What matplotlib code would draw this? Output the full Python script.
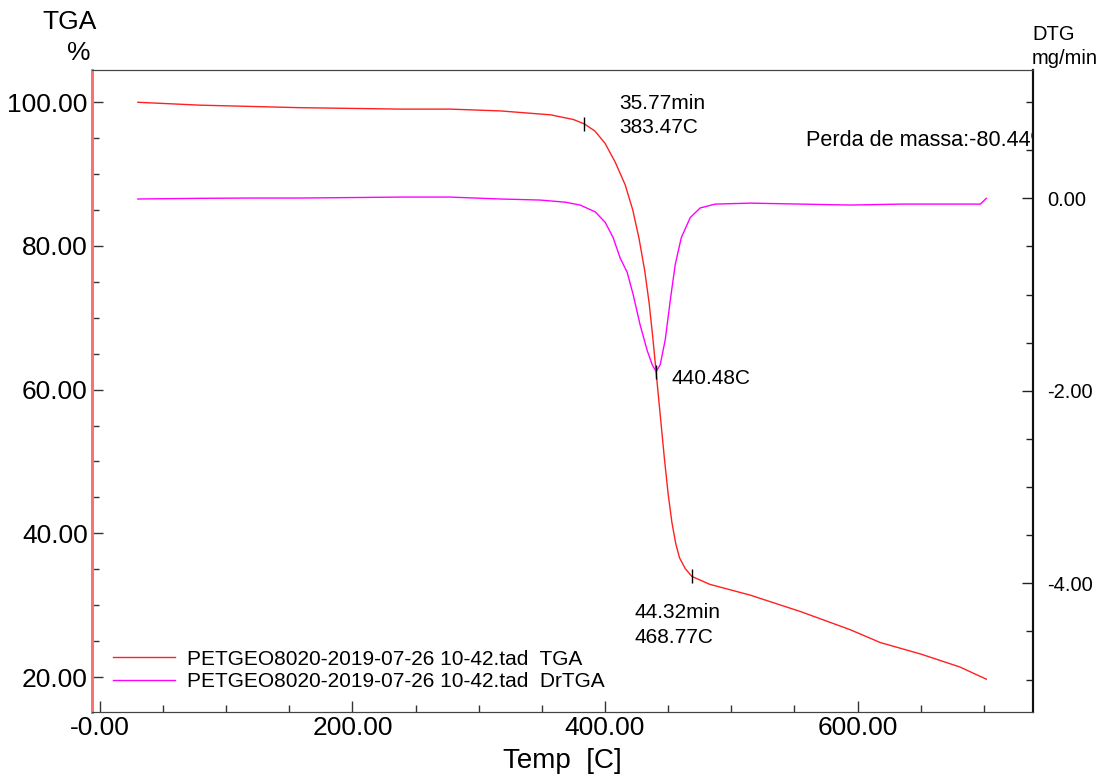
import matplotlib
matplotlib.use("Agg")
import matplotlib.pyplot as plt
from matplotlib.ticker import MultipleLocator, FixedLocator, FixedFormatter

plt.rcParams['font.family'] = ['Liberation Sans', 'DejaVu Sans']

# ---- data ----
tga_temp = [30, 79, 158, 238, 277, 317, 357, 375, 383.5, 392, 400, 408, 416, 422, 427, 431.5,
            435, 438, 441, 444, 447, 450, 453, 456, 459, 463.5, 468.8, 483, 515, 555, 594,
            618, 650, 681, 702]
tga_mass = [100.0, 99.6, 99.25, 99.05, 99.05, 98.8, 98.25, 97.6, 97.0, 96.0, 94.3, 91.7, 88.5,
            85.0, 81.0, 76.5, 72.0, 67.0, 61.5, 56.0, 50.5, 45.5, 41.5, 38.6, 36.6, 35.1,
            34.0, 32.9, 31.4, 29.1, 26.6, 24.8, 23.2, 21.4, 19.7]

dtg_temp = [30, 79, 120, 158, 200, 238, 277, 317, 348.6, 368.5, 380.3, 392.2, 400.2, 406.5, 412,
            417.6, 422.3, 427.9, 433.4, 437.4, 440.5, 443.7, 447.7, 451.7, 455.6, 460.4, 467.5,
            475.4, 487.3, 515, 554.7, 594.3, 633.9, 673.5, 697.3, 702]
dtg_rate = [-0.007, 0.0, 0.003, 0.003, 0.008, 0.013, 0.013, -0.007, -0.018, -0.04, -0.07, -0.14,
            -0.25, -0.41, -0.62, -0.77, -1.00, -1.32, -1.58, -1.73, -1.80, -1.73, -1.47, -1.06,
            -0.69, -0.41, -0.20, -0.10, -0.06, -0.05, -0.06, -0.07, -0.06, -0.06, -0.06, 0.0]

onset_point = (383.47, 97.0)
peak_point = (440.48, -1.80)
endset_point = (468.77, 34.0)

x_ticks = [0, 200, 400, 600]
x_tick_labels = ["-0.00", "200.00", "400.00", "600.00"]
tga_ticks = [20, 40, 60, 80, 100]
tga_tick_labels = ["20.00", "40.00", "60.00", "80.00", "100.00"]
dtg_ticks = [-4, -2, 0]
dtg_tick_labels = ["-4.00", "-2.00", "0.00"]

legend_tga = "PETGEO8020-2019-07-26 10-42.tad  TGA"
legend_dtg = "PETGEO8020-2019-07-26 10-42.tad  DrTGA"

# ---- figure ----
fig = plt.figure(figsize=(11.14, 7.78), dpi=100)
ax = fig.add_axes([0.0826, 0.0852, 0.8447, 0.8248])
ax2 = ax.twinx()

ax.set_xlim(-6.3, 739)
ax.set_ylim(15.17, 104.49)
ax2.set_ylim(-5.334, 1.333)

l1, = ax.plot(tga_temp, tga_mass, color='#ff2020', lw=1.0)
l2, = ax2.plot(dtg_temp, dtg_rate, color='#ff00ff', lw=1.0)

# marker ticks on curves
ax.plot([onset_point[0]], [onset_point[1]], marker='|', ms=10, color='black', mew=1)
ax.plot([endset_point[0]], [endset_point[1]], marker='|', ms=10, color='black', mew=1)
ax2.plot([peak_point[0]], [peak_point[1]], marker='|', ms=10, color='black', mew=1)

fs = 15
ax.annotate("35.77min\n383.47C", xy=onset_point, xytext=(25, 6), textcoords='offset points',
            fontsize=fs, ha='left', va='center', linespacing=1.35)
ax2.annotate("440.48C", xy=peak_point, xytext=(11, -5), textcoords='offset points',
             fontsize=fs, ha='left', va='center')
ax.annotate("44.32min\n468.77C", xy=endset_point, xytext=(-41, -35), textcoords='offset points',
            fontsize=fs, ha='left', va='center', linespacing=1.35)

t = ax.text(806 / 1114, 1 - 141 / 778, "Perda de massa:-80.44%", transform=fig.transFigure,
            fontsize=15.6, ha='left', va='center')
t.set_clip_path(ax.patch)
t.set_clip_on(True)

# ticks
ax.xaxis.set_major_locator(FixedLocator(x_ticks))
ax.xaxis.set_major_formatter(FixedFormatter(x_tick_labels))
ax.xaxis.set_minor_locator(MultipleLocator(50))
ax.yaxis.set_major_locator(FixedLocator(tga_ticks))
ax.yaxis.set_major_formatter(FixedFormatter(tga_tick_labels))
ax.yaxis.set_minor_locator(MultipleLocator(5))
ax2.yaxis.set_major_locator(FixedLocator(dtg_ticks))
ax2.yaxis.set_major_formatter(FixedFormatter(dtg_tick_labels))
ax2.yaxis.set_minor_locator(MultipleLocator(0.5))

ax.tick_params(axis='both', which='both', direction='in', labelsize=19, color='#333333')
ax.tick_params(axis='both', which='major', length=8, width=1)
ax.tick_params(axis='both', which='minor', length=5, width=1)
ax.tick_params(axis='x', pad=3)
ax.tick_params(axis='y', pad=3)
ax.tick_params(top=False, which='both')
ax2.tick_params(axis='y', which='both', direction='in', labelsize=14.5, color='#222222', pad=10)
ax2.tick_params(axis='y', which='major', length=8, width=1)
ax2.tick_params(axis='y', which='minor', length=5, width=1)

for a in (ax, ax2):
    a.spines['left'].set_color('#ff7070')
    a.spines['left'].set_linewidth(2)
    a.spines['top'].set_color('#444444')
    a.spines['bottom'].set_color('#444444')
    a.spines['right'].set_color('#111111')
    a.spines['right'].set_linewidth(1.5)

ax.set_xlabel("Temp  [C]", fontsize=20, labelpad=6)

fig.text(70 / 1114, 1 - 22 / 778, "TGA", fontsize=19, ha='center', va='center')
fig.text(79 / 1114, 1 - 53 / 778, "%", fontsize=19, ha='center', va='center')
fig.text(1032 / 1114, 1 - 35 / 778, "DTG", fontsize=14.5, ha='left', va='center')
fig.text(1032 / 1114, 1 - 58 / 778, "mg/min", fontsize=14.5, ha='left', va='center')

ax.legend([l1, l2], [legend_tga, legend_dtg], loc='lower left', frameon=False, fontsize=15,
          handlelength=3.0, handletextpad=0.58, labelspacing=0.15,
          bbox_to_anchor=(0.0, 0.0), borderaxespad=0.6)

fig.savefig("out.png", dpi=100)
